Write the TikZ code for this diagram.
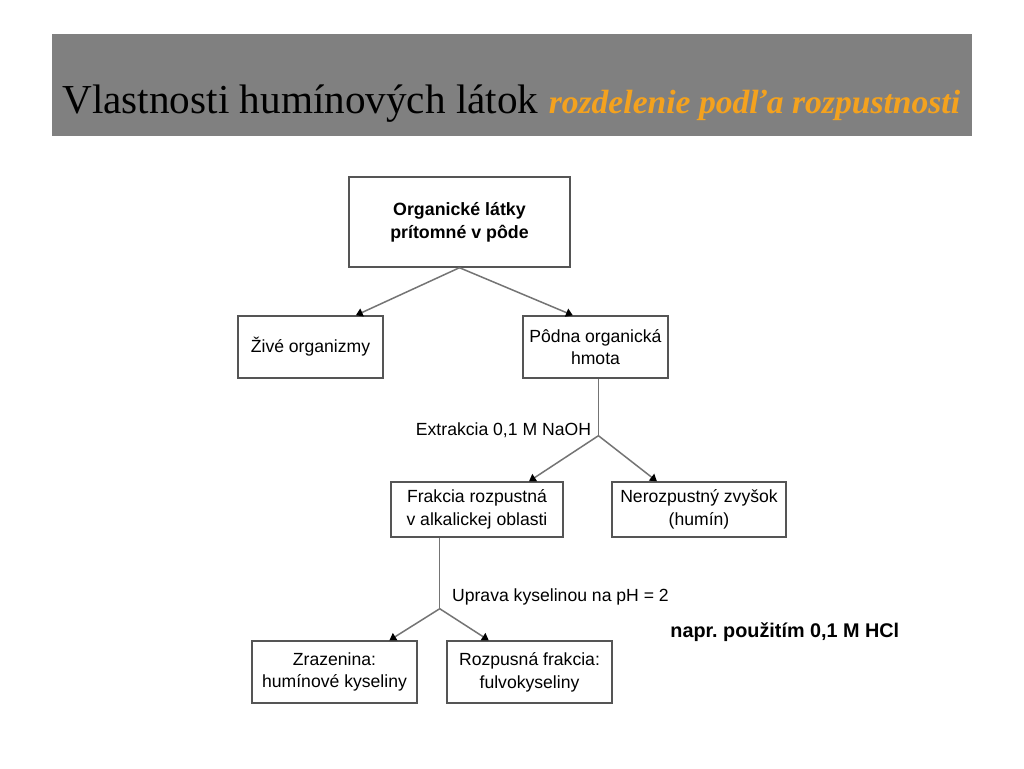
\documentclass[tikz,border=0pt]{standalone}
\usepackage{fontspec}
\setmainfont{Liberation Serif}
\setsansfont{Liberation Sans}
\usepackage{xcolor}
\usetikzlibrary{arrows.meta,positioning,calc}

\definecolor{headergray}{HTML}{808080}
\definecolor{titleorange}{HTML}{F4A21E}
\definecolor{boxgray}{HTML}{555555}
\definecolor{linegray}{HTML}{747474}

\begin{document}
\begin{tikzpicture}[
			x=0.5pt, y=-0.5pt,
			>=Latex,
			flow/.style={
				-{Triangle[length=3.4pt,width=4.2pt,color=black]},
				draw=linegray,
				line width=0.75pt
			},
			branch/.style={
				draw=linegray,
				line width=0.75pt
			},
			unit/.style={
				draw=boxgray,
				line width=0.7pt,
				align=center,
				inner sep=0pt,
				font=\sffamily\fontsize{8.8}{11.4}\selectfont
			},
			note/.style={
				inner sep=0pt,
				font=\sffamily\fontsize{8.8}{11.4}\selectfont
			}
			]
			
			\useasboundingbox[fill=white] (0,0) rectangle (1024,768);
			
			%=====================================================================
			% Header
			%=====================================================================
			
			\fill[headergray] (52,34) rectangle (972,136);
			
			\node[anchor=base west, inner sep=0pt] (title) at (62,113)
			{\fontsize{20.6}{24}\selectfont Vlastnosti humínových látok
				\textcolor{titleorange}{\fontsize{16.8}{20}\selectfont\bfseries\itshape rozdelenie podľa rozpustnosti}};
			
			%=====================================================================
			% Soil organic matter
			%=====================================================================
			
			\node[unit, minimum width=110.5pt, minimum height=45pt,
			font=\sffamily\bfseries\fontsize{8.9}{11.6}\selectfont] (organic)
			at (459.5,222)
			{Organické látky\\prítomné v pôde};
			
			\node[unit, minimum width=72.5pt, minimum height=31pt] (living)
			at (310.5,347)
			{Živé organizmy};
			
			\node[unit, minimum width=72.5pt, minimum height=31pt] (som)
			at (595.5,347)
			{Pôdna organická\\hmota};
			
			\draw[flow] (organic.south)
			-- ($(living.north west)!0.81!(living.north east)$);
			\draw[flow] (organic.south)
			-- ($(som.north west)!0.345!(som.north east)$);
			
			%=====================================================================
			% Alkaline extraction
			%=====================================================================
			
			\node[unit, minimum width=86pt, minimum height=27.5pt] (soluble)
			at (477,509.5)
			{Frakcia rozpustná\\v alkalickej oblasti};
			
			\node[unit, minimum width=87pt, minimum height=27.5pt] (residue)
			at (699,509.5)
			{Nerozpustný zvyšok\\(humín)};
			
			\coordinate (som-out) at ($(som.south west)!0.52!(som.south east)$);
			\coordinate (split-base) at ($(som-out)+(0,57)$);
			
			\draw[branch] (som-out) -- (split-base);
			\draw[flow] (split-base)
			-- ($(soluble.north west)!0.8!(soluble.north east)$);
			\draw[flow] (split-base)
			-- ($(residue.north west)!0.26!(residue.north east)$);
			
			\node[note, anchor=base east] (extraction)
			at ($(split-base)+(-7,0)$)
			{Extrakcia 0,1 M NaOH};
			
			%=====================================================================
			% Acidification
			%=====================================================================
			
			\node[unit, minimum width=82.5pt, minimum height=31pt] (precipitate)
			at (334.5,672)
			{Zrazenina:\\humínové kyseliny};
			
			\node[unit, minimum width=82.5pt, minimum height=31pt] (fulvic)
			at (529.5,672)
			{Rozpusná frakcia:\\fulvokyseliny};
			
			\coordinate (soluble-out) at ($(soluble.south west)!0.285!(soluble.south east)$);
			\coordinate (split-acid) at ($(soluble-out)+(0,71)$);
			
			\draw[branch] (soluble-out) -- (split-acid);
			\draw[flow] (split-acid)
			-- ($(precipitate.north west)!0.83!(precipitate.north east)$);
			\draw[flow] (split-acid)
			-- ($(fulvic.north west)!0.255!(fulvic.north east)$);
			
			\node[note, anchor=base west] (acid)
			at ($(split-acid)+(12,-7)$)
			{Uprava kyselinou na pH = 2};
			
			\node[note, anchor=west, font=\sffamily\bfseries\fontsize{9.9}{12}\selectfont] (hcl)
			at (670,632)
			{napr.\ použitím 0,1 M HCl};
			
		\end{tikzpicture}
\end{document}
